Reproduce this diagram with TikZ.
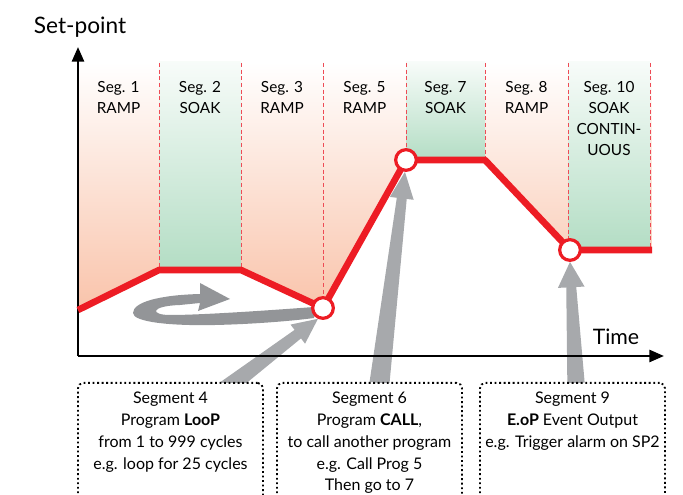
\documentclass[tikz,border=0pt]{standalone}
\usepackage{fontspec}
\setmainfont{Lato}
\usetikzlibrary{calc,arrows.meta,positioning}

\definecolor{curvered}{HTML}{ED1C24}
\definecolor{dashred}{HTML}{EE4B55}
\definecolor{rampfill}{HTML}{F9C3AA}
\definecolor{soakfill}{HTML}{B3DDC4}
\definecolor{arrowgrey}{HTML}{A7A9AC}
\definecolor{loopgrey}{HTML}{939598}

\pgfdeclarelayer{bg}
\pgfdeclarelayer{arrowlayer}
\pgfsetlayers{bg,arrowlayer,main}

\tikzset{
  axisline/.style={line width=2pt,-{Triangle[length=11pt,width=9pt]}},
  setline/.style={curvered,line width=5pt,line join=round},
  divider/.style={dashred,line width=0.7pt,dash pattern=on 3pt off 2pt},
  marker/.style={circle,draw=curvered,fill=white,line width=2.4pt,minimum size=15.5pt,inner sep=0pt},
  seglabel/.style={align=center,font=\fontsize{11.5}{15.75}\selectfont,anchor=north,inner sep=0pt},
  infobox/.style={draw,dotted,line width=1.4pt,rounded corners=4pt,align=center,anchor=north,
    minimum width=138.75pt,text depth=90pt,inner ysep=7pt,font=\fontsize{12}{16.3}\selectfont},
}

% tail, tip, tail half width, neck half width, head half width, head length
\newcommand{\fatarrow}[7][arrowgrey]{%
  \coordinate (neck) at ($(#3)!#7!(#2)$);
  \fill[#1] ($(#2)!#4!90:(#3)$) -- ($(neck)!#5!90:(#3)$) -- ($(neck)!#6!90:(#3)$) -- (#3)
    -- ($(neck)!#6!-90:(#3)$) -- ($(neck)!#5!-90:(#3)$) -- ($(#2)!#4!-90:(#3)$) -- cycle;
}

\begin{document}
\begin{tikzpicture}[x=0.75pt,y=-0.75pt]
\useasboundingbox (0,0) rectangle (683,495);
\clip (0,0) rectangle (683,495);

\coordinate (p0) at (78,310);
\coordinate (p1) at (159,270);
\coordinate (p2) at (241,270);
\coordinate (p4) at (323,308);
\coordinate (p6) at (406,160);
\coordinate (p7) at (485,160);
\coordinate (p9) at (570,250);
\coordinate (p10) at (652,250);
\coordinate (origin) at (78,356);

\begin{pgfonlayer}{bg}
\begin{scope}
\clip (p0) -- (78,62) -- (652,62) -- (p10) -- (p9) -- (p7) -- (p6) -- (p4) -- (p2) -- (p1) -- cycle;
\shade[top color=white,bottom color=rampfill] (78,62) rectangle (652,312);
\end{scope}
\shade[top color=soakfill!10,bottom color=soakfill] (159,62) rectangle (241,270);
\shade[top color=soakfill!10,bottom color=soakfill] (406,62) rectangle (485,160);
\shade[top color=soakfill!10,bottom color=soakfill] (568,62) rectangle (650,250);
\end{pgfonlayer}

\draw[divider] (159,63) -- (159,270);
\draw[divider] (241,63) -- (241,270);
\draw[divider] (323,63) -- (323,308);
\draw[divider] (406,63) -- (406,160);
\draw[divider] (485,63) -- (485,160);
\draw[divider] (568,63) -- (568,250);
\draw[divider] (650,63) -- (650,250);

\node[seglabel] (seg1) at (118.5,81) {Seg. 1\\RAMP};
\node[seglabel] (seg2) at (200,81) {Seg. 2\\SOAK};
\node[seglabel] (seg3) at (282,81) {Seg. 3\\RAMP};
\node[seglabel] (seg5) at (364.5,81) {Seg. 5\\RAMP};
\node[seglabel] (seg7) at (445.5,81) {Seg. 7\\SOAK};
\node[seglabel] (seg8) at (526.5,81) {Seg. 8\\RAMP};
\node[seglabel] (seg10) at (609,81) {Seg. 10\\SOAK\\CONTIN-\\UOUS};

\draw[axisline] (origin) -- (78,47);
\draw[axisline] (origin) -- (664,356);
\node[font=\fontsize{17}{20}\selectfont] (ylab) at (80,27) {Set-point};
\node[font=\fontsize{16}{19}\selectfont] (xlab) at (616,337) {Time};

\draw[setline] (p0) -- (p1) -- (p2) -- (p4) -- (p6) -- (p7) -- (p9) -- (p10);
\node[marker] (c4) at (p4) {};
\node[marker] (c6) at (p6) {};
\node[marker] (c9) at (p9) {};

\node[infobox] (box4) at (170.5,382) {Segment 4\\Program \textbf{LooP}\\from 1 to 999 cycles\\e.g. loop for 25 cycles};
\node[infobox] (box6) at (369.5,382) {Segment 6\\Program \textbf{CALL},\\to call another program\\e.g. Call Prog 5\\Then go to 7};
\node[infobox] (box9) at (572.5,382) {Segment 9\\\textbf{E.oP} Event Output\\e.g. Trigger alarm on SP2};

\begin{pgfonlayer}{arrowlayer}
\clip (0,0) rectangle (683,382.5);
\fill[loopgrey] (314,307) .. controls (260,311) and (200,315) .. (170,315)
  .. controls (150,315) and (150,306) .. (180,305) -- (200,303) -- (198,311) -- (230,299)
  -- (200,283) -- (200,294) .. controls (160,295) and (133,302) .. (133,313)
  .. controls (133,322) and (170,326) .. (215,325) .. controls (260,324) and (300,320) .. (314,318) -- cycle;
\coordinate (t4) at ($(box4.north)+(48.5,12)$);
\coordinate (t6) at ($(box6.north)+(10,1)$);
\coordinate (t9) at ($(box9.north)+(3.5,1)$);
\fatarrow{t4}{c4.245}{6.7pt}{4pt}{9pt}{19pt}
\fatarrow{t6}{c6.265}{7.5pt}{3.75pt}{9pt}{20pt}
\fatarrow{t9}{c9.south}{6.5pt}{3.75pt}{10pt}{19pt}
\end{pgfonlayer}
\end{tikzpicture}
\end{document}
